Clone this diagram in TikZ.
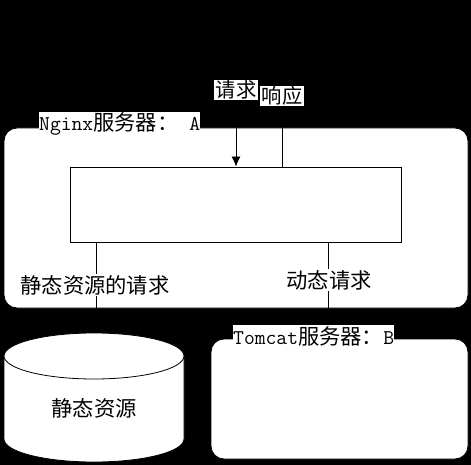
\documentclass[tikz,border=0pt]{standalone}
\usepackage{fontspec}
\usetikzlibrary{arrows.meta}
\newfontfamily\cjk{Noto Sans CJK SC}
\newcommand\latn[1]{{\ttfamily\fontsize{21}{24}\selectfont #1}}
\begin{document}
\begin{tikzpicture}[x=1pt,y=-1pt,
  panel/.style={fill=white,draw=black,line width=0.8pt,rounded corners=13pt},
  core/.style={fill=white,draw=black,line width=0.8pt},
  lbl/.style={fill=white,inner xsep=1.5pt,inner ysep=1pt,font=\cjk\fontsize{21.3}{24}\selectfont},
  toplbl/.style={lbl,font=\cjk\fontsize{20.3}{23}\selectfont},
  conn/.style={draw=black,line width=0.8pt},
  tip/.style={-{Latex[length=10pt,width=9pt]}}]
\useasboundingbox (0,0) rectangle (471,465);
\fill[black] (0,0) rectangle (471,465);
% Nginx server panel
\node[panel,minimum width=464pt,minimum height=180pt,inner sep=0pt] (nginx) at (236,218) {};
% inner box
\node[core,minimum width=331pt,minimum height=75pt,inner sep=0pt] (core) at (235.5,204.5) {};
% Tomcat panel
\node[panel,minimum width=257pt,minimum height=120pt,inner sep=0pt] (tomcat) at (339.5,399) {};
% cylinder (static resources)
\fill[white,draw=black,line width=0.8pt] (4,356) -- (4,439) arc[start angle=180,end angle=0,x radius=90,y radius=23]
  -- (184,356) -- cycle;
\draw[fill=white,draw=black,line width=0.8pt] (94,356) ellipse[x radius=90,y radius=23];
\coordinate (cyltop) at (96,333);
\node[font=\cjk\fontsize{21.3}{24}\selectfont,inner sep=0pt] (static) at (94,408) {静态资源};
% top labels
\node[toplbl] (req) at (236,90) {请求};
\node[toplbl] (resp) at (282,96) {响应};
% connectors
\draw[conn,tip] (req.south) -- (req.south |- core.north);
\draw[conn] (resp.south) -- (resp.south |- core.north);
\draw[conn] (cyltop |- core.south) -- (cyltop);
\coordinate (tomtop) at (328,339);
\draw[conn] (tomtop |- core.south) -- (tomtop);
% labels on panels
\node[lbl,anchor=west,inner xsep=0pt] (nginxlbl) at (39,124) {\latn{Nginx}服务器：\latn{\ A}};
\node[lbl,anchor=west,inner xsep=0pt] (tomcatlbl) at (233,336) {\latn{Tomcat}服务器：\latn{B}};
\node[lbl,inner xsep=0pt] (staticreq) at (95,285) {静态资源的请求};
\node[lbl,inner xsep=0pt] (dynreq) at (329,280) {动态请求};
\end{tikzpicture}
\end{document}
